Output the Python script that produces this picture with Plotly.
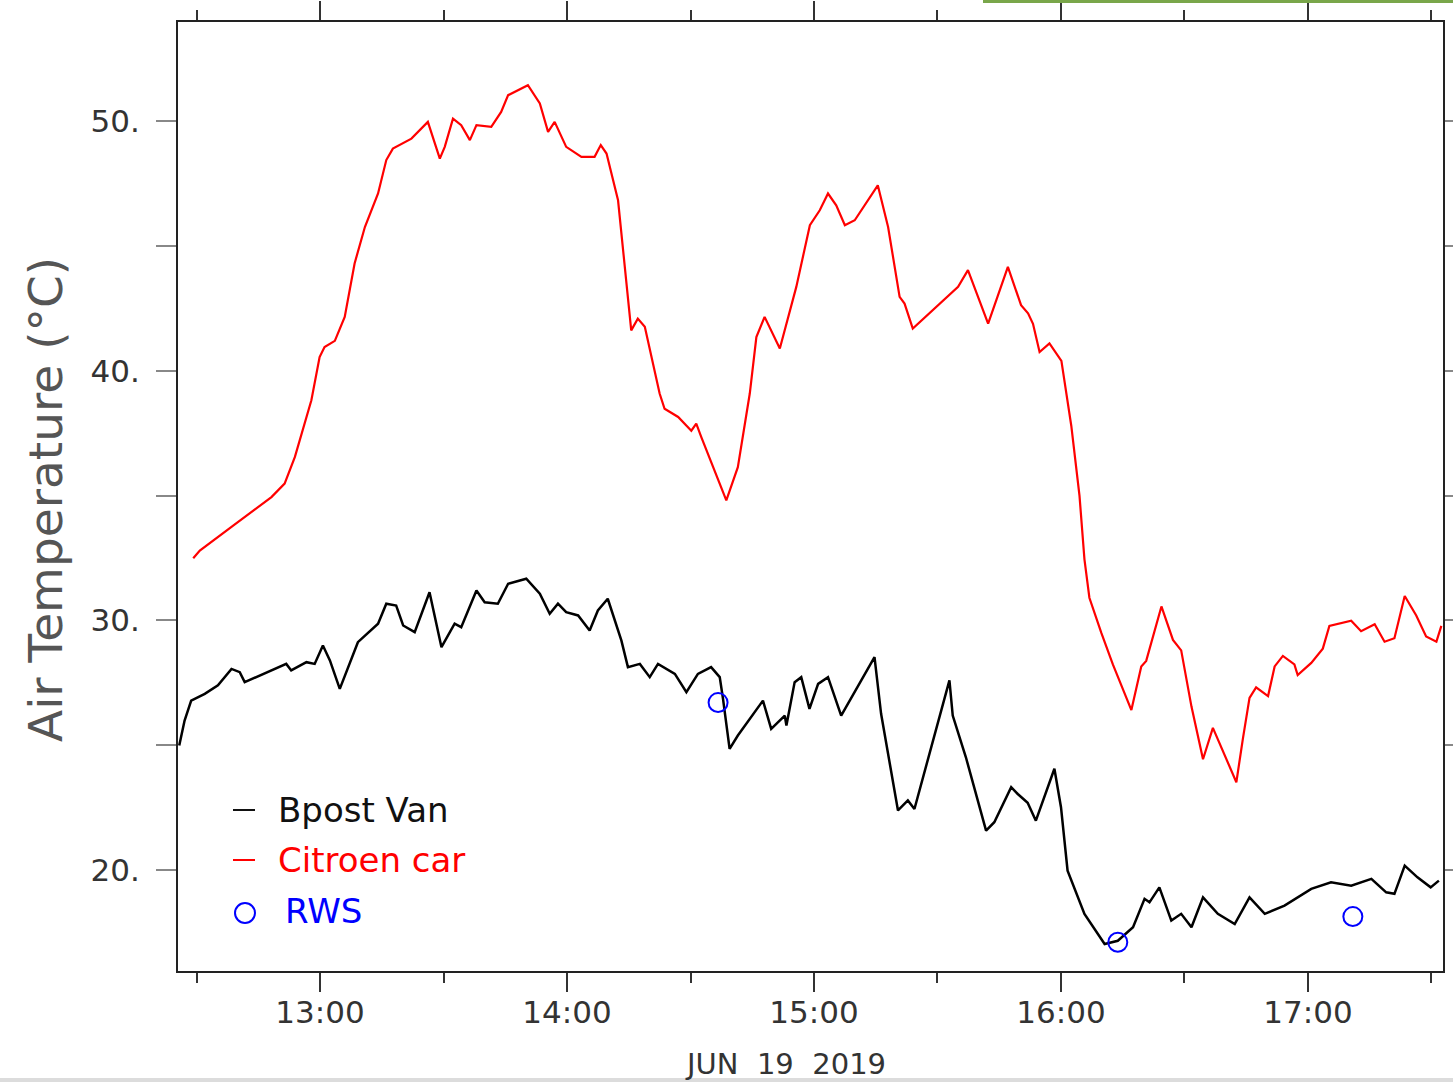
import plotly.graph_objects as go

DATE = "2019-06-19 "

# Citroen car (red) air temperature
red_time = ["12:29:12", "12:30:48", "12:38:54", "12:48:12", "12:51:24", "12:53:54", "12:57:54", "12:59:54",
            "13:01:06", "13:03:36", "13:06:00", "13:08:24", "13:10:54", "13:14:06", "13:16:06", "13:17:42",
            "13:22:12", "13:26:12", "13:29:06", "13:30:18", "13:32:18", "13:34:18", "13:36:24", "13:38:00",
            "13:41:36", "13:44:00", "13:45:42", "13:48:06", "13:50:30", "13:53:24", "13:55:24", "13:57:00",
            "13:59:48", "14:03:30", "14:06:42", "14:08:12", "14:09:36", "14:12:24", "14:15:36", "14:17:12",
            "14:18:54", "14:22:30", "14:23:42", "14:27:00", "14:30:12", "14:31:24", "14:32:36", "14:38:42",
            "14:41:30", "14:44:24", "14:46:00", "14:48:00", "14:51:42", "14:55:42", "14:59:00", "15:01:24",
            "15:03:24", "15:05:24", "15:07:30", "15:09:54", "15:15:30", "15:18:00", "15:20:48", "15:22:00",
            "15:24:00", "15:35:00", "15:37:24", "15:42:18", "15:47:06", "15:50:18", "15:52:00", "15:53:12",
            "15:54:48", "15:57:12", "16:00:06", "16:02:30", "16:04:30", "16:05:42", "16:06:54", "16:09:48",
            "16:12:36", "16:17:06", "16:19:30", "16:20:42", "16:24:24", "16:27:12", "16:29:12", "16:31:42",
            "16:34:30", "16:36:54", "16:42:36", "16:44:12", "16:45:48", "16:47:24", "16:50:18", "16:51:54",
            "16:53:54", "16:56:42", "16:57:30", "17:00:48", "17:03:36", "17:05:12", "17:10:30", "17:12:54",
            "17:16:12", "17:18:36", "17:21:00", "17:23:30", "17:26:18", "17:28:42", "17:31:12", "17:32:24"]
red_temp = [32.49, 32.80, 33.80, 34.94, 35.48, 36.55, 38.82, 40.55,
            40.95, 41.20, 42.16, 44.30, 45.76, 47.10, 48.44, 48.90,
            49.30, 49.97, 48.50, 48.97, 50.10, 49.84, 49.24, 49.84,
            49.77, 50.37, 51.04, 51.24, 51.44, 50.71, 49.57, 49.97,
            48.97, 48.57, 48.57, 49.04, 48.70, 46.83, 41.62, 42.09,
            41.76, 39.09, 38.48, 38.15, 37.60, 37.88, 37.35, 34.81,
            36.14, 39.09, 41.35, 42.16, 40.89, 43.36, 45.83, 46.43,
            47.10, 46.63, 45.83, 46.03, 47.43, 45.76, 42.96, 42.69,
            41.69, 43.36, 44.03, 41.89, 44.16, 42.63, 42.30, 41.88,
            40.75, 41.10, 40.40, 37.80, 34.99, 32.45, 30.91, 29.50,
            28.24, 26.41, 28.16, 28.38, 30.56, 29.22, 28.80, 26.55,
            24.44, 25.70, 23.52, 25.28, 26.90, 27.32, 26.97, 28.16,
            28.58, 28.24, 27.81, 28.30, 28.87, 29.78, 29.99, 29.57,
            29.85, 29.15, 29.29, 30.98, 30.20, 29.36, 29.15, 29.78]

# Bpost Van (black) air temperature
black_time = ["12:25:48", "12:27:06", "12:28:42", "12:32:00", "12:35:12", "12:38:30", "12:40:30", "12:41:42",
              "12:51:48", "12:53:00", "12:56:42", "12:58:42", "13:00:42", "13:02:24", "13:04:48", "13:06:48",
              "13:09:12", "13:14:06", "13:16:06", "13:18:30", "13:20:12", "13:23:00", "13:26:36", "13:29:30",
              "13:32:42", "13:34:18", "13:38:00", "13:40:00", "13:43:12", "13:45:42", "13:50:06", "13:53:24",
              "13:55:48", "13:57:48", "13:59:48", "14:02:42", "14:05:30", "14:07:30", "14:09:54", "14:13:12",
              "14:14:48", "14:17:42", "14:20:06", "14:22:06", "14:26:12", "14:29:00", "14:31:48", "14:35:00",
              "14:37:06", "14:37:54", "14:39:30", "14:41:30", "14:47:36", "14:49:36", "14:52:54", "14:53:18",
              "14:55:18", "14:56:54", "14:58:54", "15:01:00", "15:03:24", "15:06:36", "15:14:42", "15:16:18",
              "15:20:24", "15:22:48", "15:24:24", "15:32:54", "15:33:42", "15:36:54", "15:41:48", "15:43:48",
              "15:47:54", "15:49:30", "15:51:54", "15:53:54", "15:58:24", "16:00:00", "16:01:36", "16:05:42",
              "16:10:36", "16:13:48", "16:17:30", "16:20:18", "16:21:30", "16:23:54", "16:26:48", "16:29:12",
              "16:31:42", "16:34:30", "16:38:06", "16:42:12", "16:45:48", "16:49:30", "16:54:18", "17:00:48",
              "17:05:36", "17:10:30", "17:15:24", "17:19:00", "17:21:00", "17:23:30", "17:26:36", "17:29:48",
              "17:31:48"]
black_temp = [24.99, 25.99, 26.79, 27.06, 27.40, 28.06, 27.93, 27.53,
              28.26, 28.00, 28.33, 28.26, 29.00, 28.40, 27.26, 28.13,
              29.13, 29.87, 30.67, 30.60, 29.80, 29.53, 31.13, 28.93,
              29.87, 29.73, 31.20, 30.73, 30.67, 31.47, 31.67, 31.07,
              30.27, 30.67, 30.33, 30.20, 29.60, 30.40, 30.87, 29.20,
              28.13, 28.26, 27.73, 28.26, 27.86, 27.13, 27.86, 28.13,
              27.73, 26.86, 24.86, 25.39, 26.79, 25.66, 26.19, 25.79,
              27.53, 27.73, 26.46, 27.46, 27.73, 26.19, 28.53, 26.26,
              22.39, 22.79, 22.45, 27.60, 26.19, 24.52, 21.58, 21.92,
              23.32, 23.05, 22.70, 21.98, 24.06, 22.52, 19.98, 18.25,
              17.04, 17.17, 17.71, 18.85, 18.71, 19.31, 17.98, 18.25,
              17.71, 18.91, 18.25, 17.84, 18.91, 18.25, 18.58, 19.25,
              19.51, 19.38, 19.65, 19.11, 19.05, 20.18, 19.71, 19.31,
              19.58]

# RWS station observations (blue circles)
rws_time = ["14:36:42", "16:13:48", "17:10:54"]
rws_temp = [26.71, 17.11, 18.14]

# Axis ticks
y_tick_vals = [20, 30, 40, 50]
y_tick_text = ["20.", "30.", "40.", "50."]
y_minor_vals = [25, 35, 45]

FONT = "DejaVu Sans"

fig = go.Figure()
fig.add_trace(go.Scatter(x=[DATE + t for t in black_time], y=black_temp, mode="lines",
                         line=dict(color="black", width=2.5), name="Bpost Van", showlegend=False))
fig.add_trace(go.Scatter(x=[DATE + t for t in red_time], y=red_temp, mode="lines",
                         line=dict(color="#ff0000", width=2.2), name="Citroen car", showlegend=False))
fig.add_trace(go.Scatter(x=[DATE + t for t in rws_time], y=rws_temp, mode="markers",
                         marker=dict(symbol="circle-open", size=19, color="#0000ff", line=dict(width=2)),
                         name="RWS", showlegend=False))

W, H = 1453, 1082
L, R, T, B = 178, 10, 22, 111
PW, PH = W - L - R, H - T - B


def px(x):
    return (x - L) / PW


def py(y):
    return (H - B - y) / PH


fig.update_layout(
    width=W, height=H,
    margin=dict(l=L, r=R, t=T, b=B, pad=0, autoexpand=False),
    paper_bgcolor="white", plot_bgcolor="white",
    font=dict(family=FONT, color="#333333", size=32),
    showlegend=False,
)

fig.update_xaxes(
    type="date", automargin=False,
    range=[DATE + "12:25:30", DATE + "17:32:48"],
    tick0=DATE + "13:00:00", dtick=3600000, tickformat="%H:%M",
    ticks="outside", ticklen=19, tickwidth=2, tickcolor="#333333",
    minor=dict(dtick=1800000, tick0=DATE + "13:00:00", ticks="outside", ticklen=10, tickwidth=2,
               tickcolor="#333333", showgrid=False),
    showline=True, linecolor="#222222", linewidth=2, mirror="ticks",
    showgrid=False, zeroline=False,
    tickfont=dict(family=FONT, size=31, color="#333333"),
    ticklabelstandoff=-6,
)
fig.update_yaxes(
    automargin=False,
    range=[15.96, 53.97],
    tickvals=y_tick_vals, ticktext=y_tick_text,
    ticks="outside", ticklen=20, tickwidth=2, tickcolor="#888888",
    minor=dict(tickvals=y_minor_vals, ticks="outside", ticklen=20, tickwidth=2, tickcolor="#888888",
               showgrid=False),
    showline=True, linecolor="#222222", linewidth=2, mirror="ticks",
    showgrid=False, zeroline=False,
    tickfont=dict(family=FONT, size=31, color="#333333"),
    ticklabelstandoff=10,
)

annotations = [
    dict(text="Air Temperature (°C)", xref="paper", yref="paper", x=px(45), y=py(500),
         textangle=-90, showarrow=False, xanchor="center", yanchor="middle",
         font=dict(family=FONT, size=47, color="#555555")),
    dict(text="JUN  19  2019", xref="paper", yref="paper", x=px(785), y=py(1064),
         showarrow=False, xanchor="center", yanchor="middle",
         font=dict(family=FONT, size=29, color="#333333")),
    dict(text="Bpost Van", xref="paper", yref="paper", x=px(276), y=py(810),
         showarrow=False, xanchor="left", yanchor="middle",
         font=dict(family=FONT, size=34, color="#111111")),
    dict(text="Citroen car", xref="paper", yref="paper", x=px(276), y=py(860),
         showarrow=False, xanchor="left", yanchor="middle",
         font=dict(family=FONT, size=34, color="#ff0000")),
    dict(text="RWS", xref="paper", yref="paper", x=px(283), y=py(911),
         showarrow=False, xanchor="left", yanchor="middle",
         font=dict(family=FONT, size=34, color="#0000ff")),
]
fig.update_layout(annotations=annotations)

shapes = [
    dict(type="line", xref="paper", yref="paper", x0=px(233), x1=px(255), y0=py(810), y1=py(810),
         line=dict(color="#111111", width=2)),
    dict(type="line", xref="paper", yref="paper", x0=px(233), x1=px(255), y0=py(860), y1=py(860),
         line=dict(color="#ff0000", width=2)),
    dict(type="circle", xref="paper", yref="paper", x0=px(235), x1=px(255), y0=py(923), y1=py(903),
         line=dict(color="#0000ff", width=2)),
    # screenshot border artefacts
    dict(type="rect", xref="paper", yref="paper", x0=px(0), x1=px(1453), y0=py(1082), y1=py(1078),
         line=dict(width=0), fillcolor="#dcdcdc", layer="above"),
    dict(type="rect", xref="paper", yref="paper", x0=px(983), x1=px(1453), y0=py(3), y1=py(0),
         line=dict(width=0), fillcolor="#79a64a", layer="above"),
]
fig.update_layout(shapes=shapes)

fig.write_html("out.html")
